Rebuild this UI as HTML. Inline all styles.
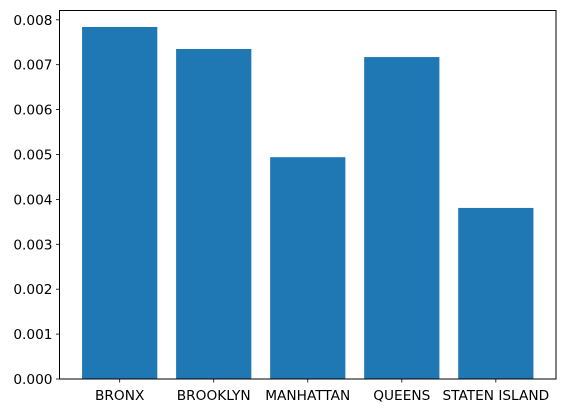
<!DOCTYPE html>
<html><head><meta charset="utf-8"><style>
html,body{margin:0;padding:0;background:#fff;}
text{font-family:"DejaVu Sans","Liberation Sans",sans-serif;font-size:13.7px;fill:#000;}
</style></head><body>
<svg id="chart" width="565" height="413" xmlns="http://www.w3.org/2000/svg"></svg>
<script>
const categories = ["BRONX","BROOKLYN","MANHATTAN","QUEENS","STATEN ISLAND"];
const values = [0.00784,0.00735,0.00494,0.00717,0.00381];
const yTicks = [0,0.001,0.002,0.003,0.004,0.005,0.006,0.007,0.008];
const yTickLabels = ["0.000","0.001","0.002","0.003","0.004","0.005","0.006","0.007","0.008"];

const svg = document.getElementById('chart');
const NS = 'http://www.w3.org/2000/svg';
const L = 59.5, R = 556, T = 10.5, B = 379;
const xmin = -0.64, xmax = categories.length - 1 + 0.64;
const x = v => L + (v - xmin) / (xmax - xmin) * (R - L);
const y = v => B - v / 0.001 * 44.9;
function mk(tag, attrs){const e=document.createElementNS(NS,tag);for(const k in attrs)e.setAttribute(k,attrs[k]);svg.appendChild(e);return e;}

values.forEach((v,i)=>{
  const r = mk('rect',{x:x(i-0.4),y:y(v),width:x(i+0.4)-x(i-0.4),height:B-y(v),fill:'#1f77b4'});
  
  
});
const frame = mk('rect',{x:L,y:T,width:R-L,height:B-T,fill:'none',stroke:'#000','stroke-width':1});



yTicks.forEach((t,i)=>{
  const yy = y(t);
  const tk = mk('line',{x1:L-3.5,x2:L,y1:yy,y2:yy,stroke:'#000','stroke-width':0.8});
  
  
  const tx = mk('text',{x:L-7,y:yy+5,'text-anchor':'end'});
  tx.textContent = yTickLabels[i];
  
  
});
categories.forEach((c,i)=>{
  const xx = x(i);
  const tk = mk('line',{x1:xx,x2:xx,y1:B,y2:B+3.5,stroke:'#000','stroke-width':0.8});
  
  
  const tx = mk('text',{x:xx,y:B+21,'text-anchor':'middle'});
  tx.textContent = c;
  
  
});
</script>
</body></html>
